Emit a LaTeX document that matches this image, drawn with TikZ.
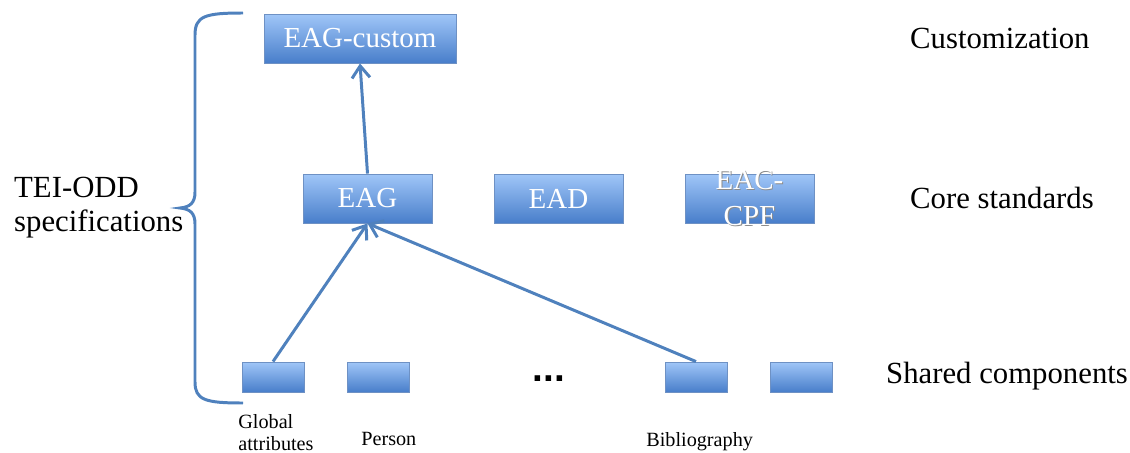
\documentclass[tikz,border=0pt]{standalone}
\usepackage{fontspec}
\setmainfont{Liberation Serif}
\newfontfamily\dotsfont{Liberation Sans}
\usepackage{xcolor}
\usepackage{tikz}
\usetikzlibrary{arrows.meta,shadows}
\definecolor{boxtop}{RGB}{160,198,248}
\definecolor{boxbottom}{RGB}{72,126,202}
\definecolor{boxline}{RGB}{110,145,196}
\definecolor{linkblue}{RGB}{79,129,189}
\newcommand{\shadowed}[1]{\makebox[0pt][l]{\hspace{0.5pt}\raisebox{-0.6pt}{\textcolor{black!45}{#1}}}#1}
\tikzstyle{stdbox}=[rectangle,draw=boxline,line width=0.5pt,top color=boxtop,bottom color=boxbottom,
  text=white,font=\fontsize{16.5}{19}\selectfont,minimum width=2.58cm,minimum height=0.98cm,inner sep=0pt,
  drop shadow={opacity=0.25,shadow xshift=0.4pt,shadow yshift=-0.8pt}]
\tikzstyle{partbox}=[stdbox,minimum width=1.24cm,minimum height=0.6cm]
\tikzstyle{level}=[anchor=west,font=\fontsize{17.5}{20}\selectfont]
\tikzstyle{partlabel}=[anchor=north west,font=\fontsize{11.5}{12.5}\selectfont,align=left,inner sep=0pt]
\tikzstyle{link}=[draw=linkblue,line width=1.7pt,-{Straight Barb[length=2.4mm,width=3.6mm]}]

\begin{document}
\begin{tikzpicture}[x=0.02cm,y=-0.02cm]
        \useasboundingbox (0,0) rectangle (1130,453);

        % top and core levels
        \node at (360,38.5)  [stdbox,minimum width=3.84cm] (custom) {EAG-custom};
        \node at (367.5,198.5) [stdbox] (eag) {EAG};
        \node at (558.5,198.5) [stdbox] (ead) {EAD};
        \node at (749.5,198.5) [stdbox,font=\fontsize{16.5}{18.8}\selectfont]
          (eaccpf) {\raisebox{-11pt}{\smash{\begin{tabular}{@{}c@{}}\shadowed{EAC-}\\[1.7pt]\shadowed{CPF}\end{tabular}}}};

        % shared components
        \node at (273,377) [partbox] (global) {};
        \node at (378,377) [partbox] (person) {};
        \node at (696,377) [partbox] (biblio) {};
        \node at (801,377) [partbox] (other) {};
        \node at (549,379) [font=\dotsfont\bfseries\fontsize{22}{22}\selectfont] (dots) {...};

        \node at (238,414) [partlabel] (globaltxt) {Global\\attributes};
        \node at (361,432) [partlabel] (persontxt) {Person};
        \node at (646,432) [partlabel] (bibliotxt) {Bibliography};

        % level names
        \node at (904,38)  [level] (lcustom) {Customization};
        \node at (904,198) [level] (lcore) {Core standards};
        \node at (880,376) [level] (lshared) {Shared components};

        \node at (8,208) [level,align=left,font=\fontsize{17.5}{19.3}\selectfont] (tei) {TEI-ODD\\specifications};

        \draw [link] (eag.north) -- (custom.south);
        \draw [link] (global.north) -- (eag.south);
        \draw [link] (biblio.north) -- (eag.south);

        % brace
        \draw [linkblue,line width=1.7pt] (243,13) .. controls (205,13) and (195,16) .. (195,35) -- (195,192)
          .. controls (195,203) and (190,207) .. (180,208) .. controls (190,209) and (195,213) .. (195,224)
          -- (195,382) .. controls (195,400) and (205,403) .. (243,403);
      \end{tikzpicture}
\end{document}
